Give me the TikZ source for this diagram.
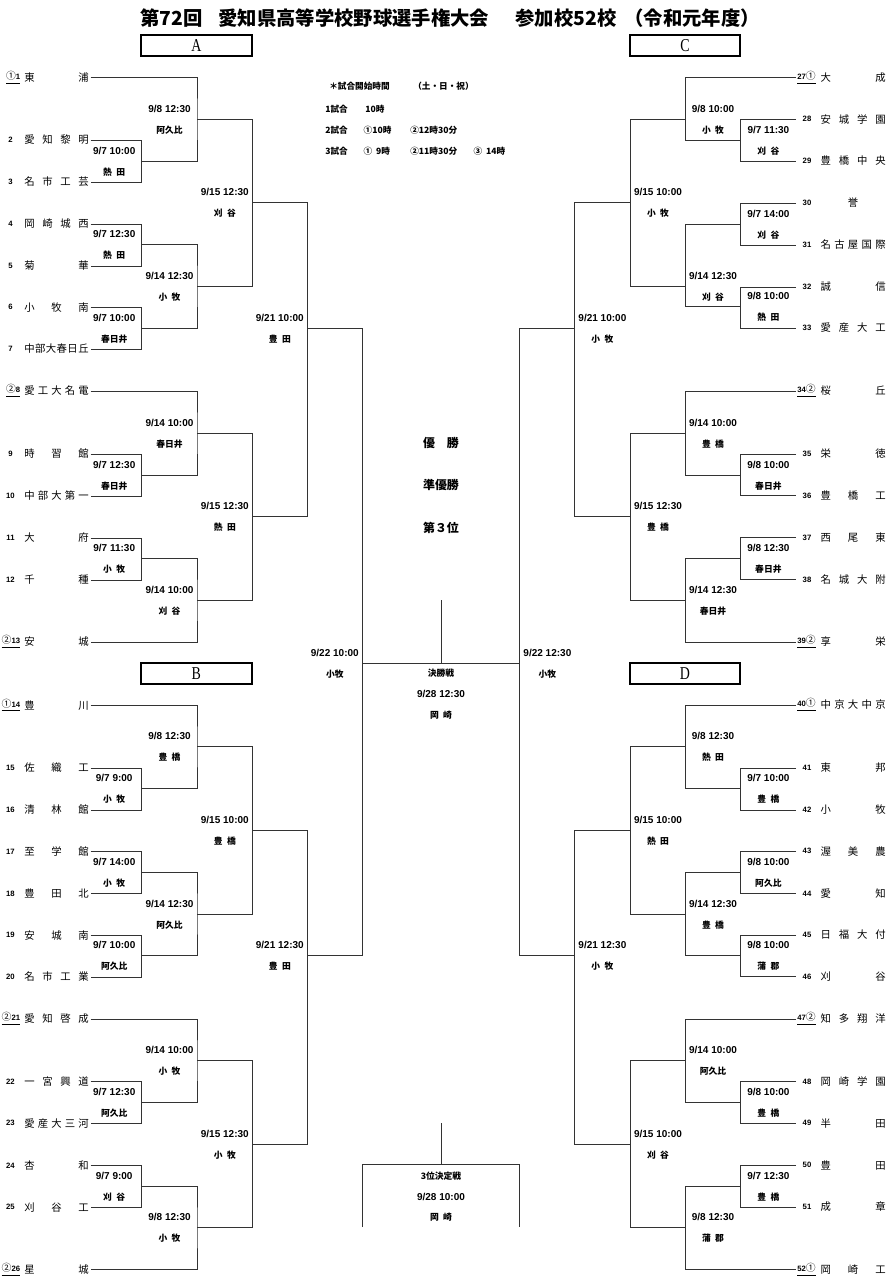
\documentclass[tikz,border=0pt]{standalone}
\usepackage{fontspec}
\setmainfont{Noto Sans CJK JP}
\newfontfamily\numfont{Liberation Sans}
\newfontfamily\blockfont{Liberation Serif}

\makeatletter
% spread the characters of a school name over a fixed width
\newcommand\spreadname[2]{%
  \edef\sn@list{#2}\let\sn@sep\relax
  \hbox to #1{\hss\expandafter\@tfor\expandafter\sn@c\expandafter:\expandafter=\sn@list\do{\sn@sep\sn@c\let\sn@sep\hfill}\hss}}
\makeatother
\newcommand\seedmark[1]{{\normalfont\fontsize{5.6}{6}\selectfont\ifcase#1\or ①\or ②\fi}}

\begin{document}
\begin{tikzpicture}[
  x=0.02cm, y=-0.02cm,
  % === Line styles ===
  bracket/.style={draw=black!80, line width=0.55pt},
  % === Text styles ===
  titlelbl/.style={font=\bfseries\fontsize{11}{12}\selectfont, inner sep=0pt, anchor=west},
  blockbox/.style={draw, line width=1.1pt, minimum width=2.214cm, minimum height=0.42cm,
    inner sep=0pt, font=\blockfont\fontsize{10.3}{11}\selectfont},
  teamname/.style={font=\fontsize{5.9}{6}\selectfont, inner sep=0pt, anchor=west},
  teamno/.style={font=\numfont\bfseries\fontsize{4.4}{5}\selectfont, inner sep=0pt},
  datelbl/.style={font=\numfont\bfseries\fontsize{5.7}{6}\selectfont, inner sep=0pt},
  venuelbl/.style={font={\bfseries\fontsize{5}{6}\selectfont\spaceskip=0.5em\relax}, inner sep=0pt},
  note/.style={font=\bfseries\fontsize{4.9}{6}\selectfont, inner sep=0pt, anchor=west},
  medal/.style={font=\bfseries\fontsize{6.8}{8}\selectfont, inner sep=0pt},
  finlbl/.style={font=\bfseries\fontsize{5}{6}\selectfont, inner sep=0pt},
]
\useasboundingbox (0,0) rectangle (887,1280);

% =============================================
% Title and block boxes
% =============================================
\node[titlelbl] (title) at (140,18)
  {第72回\hspace{0.32cm}愛知県高等学校野球選手権大会\hspace{0.53cm}参加校52校\hspace{0.16cm}（令和元年度）};

\node[blockbox] (boxA) at (196.3,45.5) {\scalebox{0.77}[1]{A}};
\node[blockbox] (boxC) at (685,45.5) {\scalebox{0.77}[1]{C}};
\node[blockbox] (boxB) at (196.3,673.2) {\scalebox{0.77}[1]{B}};
\node[blockbox] (boxD) at (685,673.2) {\scalebox{0.77}[1]{D}};

% =============================================
% Starting times (top centre)
% =============================================
\foreach \k/\x/\y/\t in {
  s0/329/86.7/＊試合開始時間, s1/413/86.7/（土・日・祝）,
  g1/325/109.3/1試合, g1a/365/109.3/10時,
  g2/325/130.7/2試合, g2a/363.3/130.7/①10時, g2b/410/130.7/②12時30分,
  g3/325/151/3試合, g3a/363.3/151/①\ \ 9時, g3b/410/151/②11時30分, g3c/473.3/151/③\ \ 14時}
  \node[note] (\k) at (\x,\y) {\t};

% =============================================
% Schools, left side (blocks A and B)
% =============================================
\foreach \n/\y/\s/\nm in {
  1/77.7/1/東浦, 2/140/0/愛知黎明, 3/182/0/名市工芸, 4/224/0/岡崎城西, 5/266/0/菊華,
  6/307.3/0/小牧南, 7/349/0/中部大春日丘, 8/391/2/愛工大名電, 9/454/0/時習館,
  10/496/0/中部大第一, 11/538/0/大府, 12/580/0/千種, 13/642/2/安城,
  14/705.3/1/豊川, 15/768/0/佐織工, 16/810/0/清林館, 17/851.7/0/至学館, 18/893.7/0/豊田北,
  19/935.3/0/安城南, 20/977/0/名市工業, 21/1019/2/愛知啓成, 22/1081.7/0/一宮興道,
  23/1123.3/0/愛産大三河, 24/1165.3/0/杏和, 25/1207.3/0/刈谷工, 26/1269.7/2/星城}
{
  \coordinate (t\n) at (90.7,\y);
  \node[teamname] (n\n) at (24,\y) {\spreadname{1.286cm}{\nm}};
  \ifnum\s=0
    \node[teamno] (no\n) at (10.5,\y) {\n};
  \else
    \node[teamno, anchor=east] (no\n) at (20.5,\y) {\underline{\seedmark{\s}\n}};
  \fi
}

% =============================================
% Schools, right side (blocks C and D)
% =============================================
\foreach \n/\y/\s/\nm in {
  27/77.7/1/大成, 28/119.3/0/安城学園, 29/161/0/豊橋中央, 30/203/0/誉, 31/245/0/名古屋国際,
  32/287/0/誠信, 33/328/0/愛産大工, 34/391/2/桜丘, 35/454/0/栄徳, 36/495.7/0/豊橋工,
  37/537.7/0/西尾東, 38/579.7/0/名城大附, 39/642/2/享栄,
  40/705/1/中京大中京, 41/768/0/東邦, 42/810/0/小牧, 43/851.3/0/渥美農, 44/893.7/0/愛知,
  45/935/0/日福大付, 46/976.7/0/刈谷, 47/1019/2/知多翔洋, 48/1081.7/0/岡崎学園,
  49/1123.3/0/半田, 50/1165.3/0/豊田, 51/1207/0/成章, 52/1269.7/1/岡崎工}
{
  \coordinate (t\n) at (796,\y);
  \node[teamname] (n\n) at (820.3,\y) {\spreadname{1.3cm}{\nm}};
  \ifnum\s=0
    \node[teamno] (no\n) at (807,\y) {\n};
  \else
    \node[teamno, anchor=west] (no\n) at (797,\y) {\underline{\n\seedmark{\s}}};
  \fi
}

% =============================================
% Matches, left side: name/x/y/upper/lower/date/venue
% =============================================
\foreach \m/\x/\y/\hi/\lo/\when/\where in {
  a1/141.7/161/t2/t3/{9/7 10:00}/熱 田,
  a2/197/119/t1/a1/{9/8 12:30}/阿久比,
  a3/141.7/244.7/t4/t5/{9/7 12:30}/熱 田,
  a4/141.7/328.3/t6/t7/{9/7 10:00}/春日井,
  a5/197/286.3/a3/a4/{9/14 12:30}/小 牧,
  a6/252.3/202.3/a2/a5/{9/15 12:30}/刈 谷,
  a7/141.7/475/t9/t10/{9/7 12:30}/春日井,
  a8/197/433/t8/a7/{9/14 10:00}/春日井,
  a9/141.7/558.3/t11/t12/{9/7 11:30}/小 牧,
  a10/197/600.3/a9/t13/{9/14 10:00}/刈 谷,
  a11/252.3/516.7/a8/a10/{9/15 12:30}/熱 田,
  a12/307.3/328.3/a6/a11/{9/21 10:00}/豊 田,
  b1/141.7/788.3/t15/t16/{9/7 9:00}/小 牧,
  b2/197/746.7/t14/b1/{9/8 12:30}/豊 橋,
  b3/141.7/872.3/t17/t18/{9/7 14:00}/小 牧,
  b4/141.7/955.7/t19/t20/{9/7 10:00}/阿久比,
  b5/197/914/b3/b4/{9/14 12:30}/阿久比,
  b6/252.3/830.3/b2/b5/{9/15 10:00}/豊 橋,
  b7/141.7/1102.3/t22/t23/{9/7 12:30}/阿久比,
  b8/197/1060.3/t21/b7/{9/14 10:00}/小 牧,
  b9/141.7/1186.3/t24/t25/{9/7 9:00}/刈 谷,
  b10/197/1227.7/b9/t26/{9/8 12:30}/小 牧,
  b11/252.3/1144/b8/b10/{9/15 12:30}/小 牧,
  b12/307.3/955.7/b6/b11/{9/21 12:30}/豊 田,
  l5/362.3/663/a12/b12/{9/22 10:00}/小牧}
{
  \coordinate (\m) at (\x,\y);
  \draw[bracket] (\hi) -| (\m) |- (\lo);
  \node[datelbl] (d\m) at ([shift={(-27.5,-10.3)}]\m) {\when};
  \node[venuelbl] (v\m) at ([shift={(-27.5,10.7)}]\m) {\where};
}

% =============================================
% Matches, right side
% =============================================
\foreach \m/\x/\y/\hi/\lo/\when/\where in {
  c1/740.7/140/t28/t29/{9/7 11:30}/刈 谷,
  c2/685.3/119/t27/c1/{9/8 10:00}/小 牧,
  c3/740.7/224/t30/t31/{9/7 14:00}/刈 谷,
  c4/740.7/306.7/t32/t33/{9/8 10:00}/熱 田,
  c5/685.3/286/c3/c4/{9/14 12:30}/刈 谷,
  c6/630.3/202.7/c2/c5/{9/15 10:00}/小 牧,
  c7/740.7/475/t35/t36/{9/8 10:00}/春日井,
  c8/685.3/433/t34/c7/{9/14 10:00}/豊 橋,
  c9/740.7/558.3/t37/t38/{9/8 12:30}/春日井,
  c10/685.3/600.3/c9/t39/{9/14 12:30}/春日井,
  c11/630.3/516.7/c8/c10/{9/15 12:30}/豊 橋,
  c12/574.7/328.3/c6/c11/{9/21 10:00}/小 牧,
  d1/740.7/788.3/t41/t42/{9/7 10:00}/豊 橋,
  d2/685.3/746.7/t40/d1/{9/8 12:30}/熱 田,
  d3/740.7/872.3/t43/t44/{9/8 10:00}/阿久比,
  d4/740.7/955.7/t45/t46/{9/8 10:00}/蒲 郡,
  d5/685.3/914/d3/d4/{9/14 12:30}/豊 橋,
  d6/630.3/830.7/d2/d5/{9/15 10:00}/熱 田,
  d7/740.7/1102.3/t48/t49/{9/8 10:00}/豊 橋,
  d8/685.3/1060.3/t47/d7/{9/14 10:00}/阿久比,
  d9/740.7/1186.3/t50/t51/{9/7 12:30}/豊 橋,
  d10/685.3/1227.7/d9/t52/{9/8 12:30}/蒲 郡,
  d11/630.3/1144/d8/d10/{9/15 10:00}/刈 谷,
  d12/574.7/955.7/d6/d11/{9/21 12:30}/小 牧,
  r5/519.7/663/c12/d12/{9/22 12:30}/小牧}
{
  \coordinate (\m) at (\x,\y);
  \draw[bracket] (\hi) -| (\m) |- (\lo);
  \node[datelbl] (d\m) at ([shift={(27.7,-10.3)}]\m) {\when};
  \node[venuelbl] (v\m) at ([shift={(27.7,10.7)}]\m) {\where};
}

% =============================================
% Final and third place
% =============================================
\coordinate (champ) at (441,600);
\coordinate (fin) at (441,663);
\draw[bracket] (l5) -- (r5);
\draw[bracket] (champ) -- (fin);

\node[medal] (first) at (441,443) {優　勝};
\node[medal] (second) at (441,485) {準優勝};
\node[medal] (thirdpl) at (441,528) {第３位};

\node[finlbl] (finT) at (441,673) {決勝戦};
\node[datelbl] (finD) at (441,694) {9/28 12:30};
\node[venuelbl] (finV) at (441,715) {岡 崎};

\coordinate (thirdtop) at (441,1123);
\coordinate (third) at (441,1164);
\coordinate (thirdL) at (362.5,1227);
\coordinate (thirdR) at (519.5,1227);
\draw[bracket] (thirdL) |- (third) -| (thirdR);
\draw[bracket] (thirdtop) -- (third);

\node[finlbl] (thirdT) at (441,1176) {3位決定戦};
\node[datelbl] (thirdD) at (441,1197) {9/28 10:00};
\node[venuelbl] (thirdV) at (441,1217) {岡 崎};

\end{tikzpicture}
\end{document}
